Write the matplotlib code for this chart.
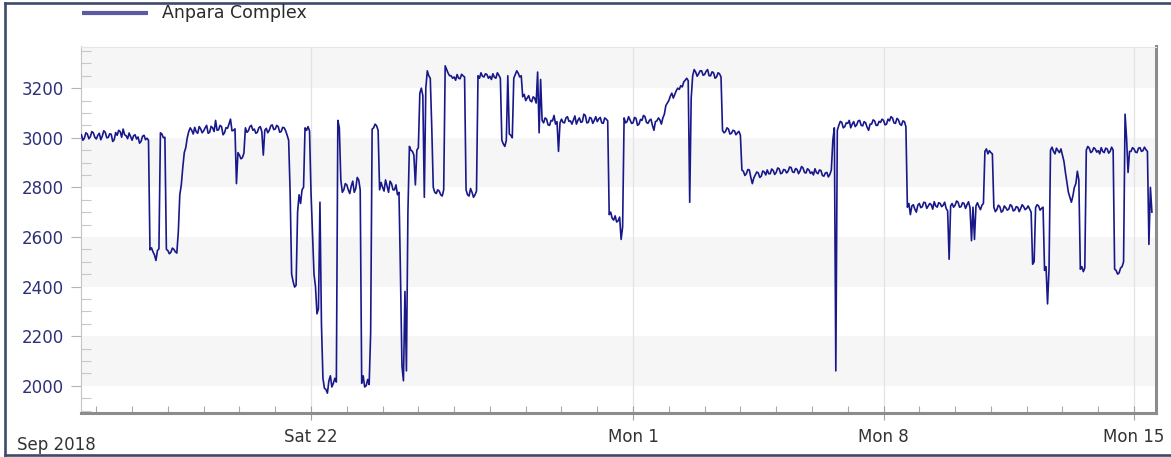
import matplotlib
matplotlib.use("Agg")
import matplotlib.pyplot as plt
import matplotlib.dates as mdates
from matplotlib.ticker import MultipleLocator
from matplotlib.lines import Line2D
import pandas as pd

plt.rcParams["font.family"] = "DejaVu Sans"

# ---- data -------------------------------------------------------------
series_name = "Anpara Complex"
period_label = "Sep 2018"
start_time = "2018-09-15 14:00"
sample_step = "1h"

# hourly generation (MW), one row per day (first row starts at 14:00)
mw = [
    3012, 2990, 2998, 3020, 3015, 2996, 3004, 3025, 3020, 3002,  # Sep 15
    2995, 3010, 3018, 2992, 3006, 3028, 3022, 3000, 3001, 3016, 3014, 2985,
    2992, 3021, 3010, 3030, 3025, 3002, 3035, 3012, 3008, 2996, 3019, 3004,  # Sep 16
    2990, 3008, 3012, 2995, 3003, 2978, 2985, 3006, 3010, 2992, 2998, 2990,
    2548, 2556, 2540, 2528, 2505, 2545, 2552, 3020, 3015, 3000, 3002, 2550,  # Sep 17
    2545, 2532, 2538, 2555, 2550, 2540, 2535, 2620, 2770, 2810, 2880, 2940,
    2960, 3000, 3025, 3040, 3030, 3015, 3042, 3024, 3018, 3045, 3036, 3020,  # Sep 18
    3028, 3040, 3050, 3018, 3022, 3046, 3040, 3025, 3070, 3030, 3032, 3050,
    3045, 3012, 3020, 3041, 3038, 3055, 3075, 3028, 3030, 3036, 2815, 2940,  # Sep 19
    2930, 2915, 2920, 2938, 3040, 3022, 3028, 3045, 3050, 3030, 3035, 3018,
    3022, 3040, 3045, 3025, 2930, 3030, 3038, 3020, 3030, 3048, 3052, 3033,  # Sep 20
    3035, 3050, 3045, 3022, 3025, 3042, 3040, 3028, 3010, 2990, 2780, 2450,
    2420, 2398, 2405, 2700, 2770, 2735, 2790, 2800, 3040, 3030, 3045, 3028,  # Sep 21
    2780, 2620, 2450, 2400, 2290, 2310, 2740, 2250, 2030, 1990, 1985, 1970,
    2020, 2040, 1995, 2010, 2030, 2015, 3070, 3040, 2830, 2780, 2790, 2815,  # Sep 22
    2810, 2790, 2775, 2805, 2825, 2780, 2795, 2840, 2830, 2790, 2010, 2040,
    1995, 2000, 2025, 2005, 2210, 3035, 3040, 3055, 3048, 3030, 2790, 2820,  # Sep 23
    2800, 2785, 2830, 2805, 2780, 2825, 2815, 2790, 2790, 2810, 2770, 2780,
    2450, 2080, 2020, 2380, 2060, 2700, 2965, 2950, 2945, 2930, 2810, 2950,  # Sep 24
    2960, 3180, 3200, 3170, 2760, 3200, 3270, 3250, 3240, 3040, 2800, 2780,
    2775, 2790, 2785, 2770, 2765, 2790, 3290, 3275, 3260, 3250, 3250, 3240,  # Sep 25
    3245, 3232, 3255, 3240, 3238, 3256, 3250, 3245, 2790, 2770, 2765, 2795,
    2780, 2760, 2770, 2785, 3250, 3240, 3262, 3248, 3245, 3258, 3255, 3240,  # Sep 26
    3248, 3235, 3258, 3244, 3240, 3262, 3252, 3240, 2990, 2975, 2965, 2990,
    3250, 3015, 3010, 3000, 3240, 3255, 3270, 3260, 3245, 3250, 3165, 3175,  # Sep 27
    3150, 3160, 3170, 3150, 3145, 3165, 3160, 3140, 3265, 3020, 3235, 3070,
    3060, 3080, 3075, 3052, 3050, 3070, 3068, 3090, 3055, 3065, 2945, 3060,  # Sep 28
    3075, 3062, 3060, 3080, 3085, 3066, 3068, 3055, 3072, 3088, 3055, 3070,
    3080, 3062, 3065, 3095, 3090, 3060, 3062, 3082, 3078, 3058, 3070, 3085,  # Sep 29
    3065, 3076, 3082, 3060, 3058, 3080, 3075, 3068, 2690, 2700, 2675, 2668,
    2685, 2660, 2665, 2680, 2590, 2640, 3080, 3060, 3065, 3085, 3072, 3058,  # Sep 30
    3060, 3082, 3078, 3050, 3055, 3074, 3070, 3090, 3085, 3062, 3058, 3070,
    3075, 3050, 3030, 3065, 3068, 3080, 3072, 3055, 3080, 3095, 3130, 3140,  # Oct 1
    3150, 3168, 3180, 3160, 3175, 3190, 3200, 3195, 3210, 3205, 3225, 3232,
    3240, 3230, 2740, 3160, 3250, 3275, 3265, 3248, 3258, 3270, 3270, 3252,  # Oct 2
    3255, 3268, 3275, 3250, 3250, 3266, 3262, 3240, 3245, 3262, 3258, 3245,
    3030, 3020, 3025, 3040, 3035, 3015, 3018, 3030, 3028, 3012, 3020, 3026,  # Oct 3
    3010, 2870, 2865, 2848, 2855, 2872, 2870, 2840, 2815, 2838, 2850, 2862,
    2858, 2840, 2845, 2866, 2862, 2850, 2870, 2855, 2855, 2874, 2868, 2852,  # Oct 4
    2860, 2878, 2875, 2855, 2858, 2872, 2870, 2858, 2865, 2882, 2880, 2862,
    2860, 2876, 2872, 2855, 2866, 2884, 2878, 2860, 2858, 2875, 2870, 2856,  # Oct 5
    2862, 2850, 2875, 2860, 2855, 2870, 2868, 2848, 2845, 2858, 2860, 2842,
    2852, 2870, 2990, 3040, 2060, 3030, 3050, 3066, 3062, 3040, 3045, 3060,  # Oct 6
    3058, 3070, 3040, 3055, 3065, 3045, 3052, 3068, 3070, 3050, 3048, 3065,
    3060, 3042, 3030, 3055, 3055, 3072, 3068, 3050, 3050, 3066, 3062, 3075,  # Oct 7
    3070, 3052, 3055, 3075, 3068, 3085, 3080, 3060, 3058, 3078, 3072, 3055,
    3050, 3068, 3065, 3045, 2720, 2735, 2690, 2725, 2730, 2712, 2700, 2728,  # Oct 8
    2735, 2718, 2722, 2740, 2738, 2715, 2725, 2735, 2730, 2712, 2742, 2725,
    2720, 2738, 2735, 2722, 2728, 2740, 2715, 2705, 2510, 2725, 2735, 2720,  # Oct 9
    2728, 2745, 2740, 2720, 2722, 2738, 2735, 2715, 2730, 2742, 2718, 2585,
    2720, 2590, 2725, 2738, 2722, 2710, 2728, 2735, 2945, 2955, 2935, 2948,  # Oct 10
    2940, 2935, 2720, 2702, 2710, 2728, 2722, 2700, 2705, 2725, 2718, 2708,
    2712, 2730, 2725, 2705, 2708, 2722, 2720, 2702, 2715, 2730, 2722, 2710,  # Oct 11
    2715, 2725, 2712, 2700, 2490, 2500, 2718, 2730, 2725, 2708, 2715, 2720,
    2465, 2480, 2330, 2470, 2950, 2962, 2945, 2935, 2958, 2948, 2940, 2955,  # Oct 12
    2930, 2905, 2860, 2820, 2780, 2760, 2740, 2765, 2800, 2815, 2865, 2830,
    2470, 2480, 2460, 2475, 2950, 2965, 2958, 2940, 2945, 2960, 2955, 2942,  # Oct 13
    2948, 2935, 2960, 2945, 2940, 2958, 2955, 2938, 2945, 2962, 2950, 2470,
    2465, 2450, 2455, 2475, 2480, 2500, 3095, 3000, 2860, 2945, 2945, 2960,  # Oct 14
    2955, 2942, 2940, 2958, 2960, 2945, 2948, 2962, 2952, 2945, 2570, 2800,
    2700,                                                                    # Oct 15
]

y_ticks = [2000, 2200, 2400, 2600, 2800, 3000, 3200]
y_range = (1890, 3368)
x_range = ("2018-09-15 14:00", "2018-10-15 14:45")
x_tick_dates = ["2018-09-22", "2018-10-01", "2018-10-08", "2018-10-15"]
x_tick_labels = ["Sat 22", "Mon 1", "Mon 8", "Mon 15"]

times = pd.date_range(start_time, periods=len(mw), freq=sample_step).to_pydatetime()

# ---- layout (pixel based) ----------------------------------------------
W, H = 1171, 457
fig = plt.figure(figsize=(W / 100, H / 100), dpi=100)
fig.patch.set_facecolor("white")


def fx(px):
    return px / W


def fy(py):
    return 1 - py / H


ax_left, ax_right, ax_top, ax_bottom = 81.4, 1156.0, 46.5, 413.0
ax = fig.add_axes([fx(ax_left), fy(ax_bottom), fx(ax_right - ax_left),
                   (ax_bottom - ax_top) / H])
ax.set_facecolor("white")

# alternating horizontal bands
for lo in y_ticks[::2]:
    ax.axhspan(lo, lo + 200, color="#f6f6f6", zorder=0, lw=0)
ax.axhspan(3200, 3400, color="#f6f6f6", zorder=0, lw=0)

for d in pd.to_datetime(x_tick_dates):
    ax.axvline(d, color="#e3e3e3", lw=0.9, zorder=0.5)

ax.plot(times, mw, color="#18188a", lw=1.2, zorder=3)

ax.set_ylim(*y_range)
ax.set_xlim(pd.Timestamp(x_range[0]), pd.Timestamp(x_range[1]))

# spines: light frame with a drop shadow on right and bottom
ax.spines["left"].set_color("#c4c4c4")
ax.spines["left"].set_linewidth(0.8)
ax.spines["top"].set_color("#e6e6e6")
ax.spines["top"].set_linewidth(0.8)
for side in ("right", "bottom"):
    ax.spines[side].set_color("#8c8c8c")
    ax.spines[side].set_linewidth(2.2)

# y axis ticks
ax.set_yticks(y_ticks)
ax.yaxis.set_minor_locator(MultipleLocator(50))
ax.tick_params(axis="y", which="major", direction="out", length=7.2, width=0.8,
               color="#b5b5b5", pad=5.5, labelsize=12, labelcolor="#2e3078")
ax.tick_params(axis="y", which="minor", direction="in", length=7.0, width=0.8,
               color="#c8c8c8")
ax.tick_params(axis="y", right=False)

# x axis ticks
ax.set_xticks(pd.to_datetime(x_tick_dates))
ax.set_xticklabels(x_tick_labels)
ax.xaxis.set_minor_locator(mdates.DayLocator())
ax.tick_params(axis="x", which="major", direction="inout", length=10, width=0.8,
               color="#a0a0a0", pad=6, labelsize=12, labelcolor="#333333")
ax.tick_params(axis="x", which="minor", direction="in", length=5, width=0.8,
               color="#a8a8a8")

fig.text(fx(17), fy(445), period_label, ha="left", va="center",
         fontsize=12, color="#333333")

# legend entry
fig.add_artist(Line2D([fx(82), fx(148)], [fy(12.5), fy(12.5)],
                      transform=fig.transFigure, color="#5b5ba3", lw=3.0,
                      solid_capstyle="butt"))
fig.text(fx(162), fy(12.5), series_name, ha="left", va="center",
         fontsize=12.5, color="#2a2a2a")

# outer frame
frame_color = "#3e4b68"
fig.add_artist(Line2D([fx(4.7), fx(4.7)], [fy(3), fy(455.3)],
                      transform=fig.transFigure, color=frame_color, lw=1.9))
fig.add_artist(Line2D([fx(4.7), fx(W)], [fy(3), fy(3)],
                      transform=fig.transFigure, color=frame_color, lw=1.9))
fig.add_artist(Line2D([fx(4.7), fx(W)], [fy(455.3), fy(455.3)],
                      transform=fig.transFigure, color=frame_color, lw=1.9))

fig.savefig("out.png", dpi=100, facecolor="white")
